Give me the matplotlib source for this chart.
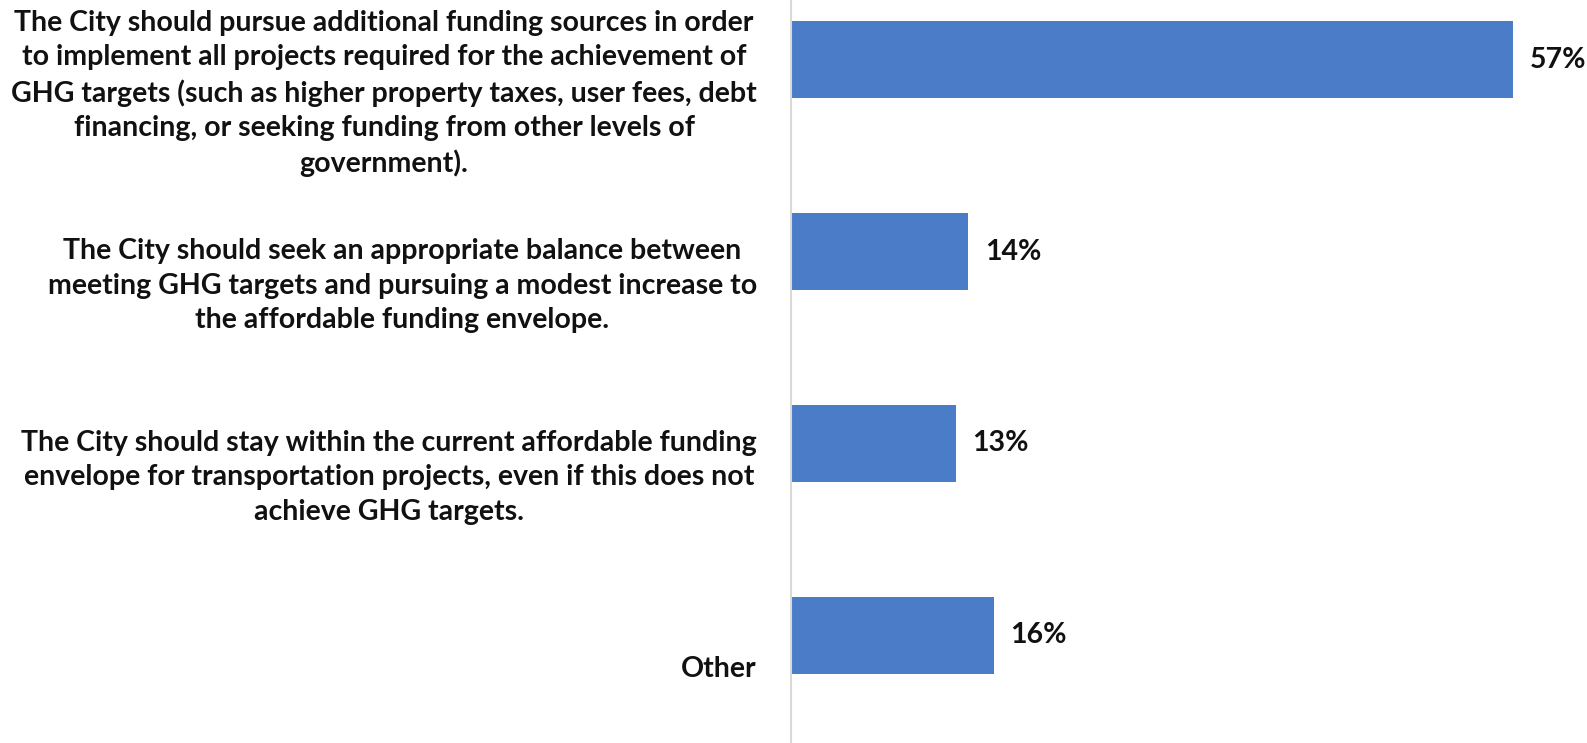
import matplotlib
matplotlib.use("Agg")
import matplotlib.pyplot as plt
import matplotlib.transforms as mtransforms

# survey responses, top to bottom
options = [
    "The City should pursue additional funding sources in order\n"
    "to implement all projects required for the achievement of\n"
    "GHG targets (such as higher property taxes, user fees, debt\n"
    "financing, or seeking funding from other levels of\n"
    "government).",
    "The City should seek an appropriate balance between\n"
    "meeting GHG targets and pursuing a modest increase to\n"
    "the affordable funding envelope.",
    "The City should stay within the current affordable funding\n"
    "envelope for transportation projects, even if this does not\n"
    "achieve GHG targets.",
    "Other",
]
shares = [57, 14, 13, 16]  # percent of respondents

BAR_COLOR = "#4a7cc8"
FONT = "Lato"

fig = plt.figure(figsize=(15.87, 7.43), dpi=100)
ax = fig.add_axes([0.4984, 0.0, 0.5016, 1.0])

pos = list(range(len(shares)))
ax.barh(pos, shares, height=0.4, color=BAR_COLOR)
ax.set_xlim(0, 62.8)
ax.set_ylim(3.56, -0.31)

for sp in ("top", "right", "bottom"):
    ax.spines[sp].set_visible(False)
ax.spines["left"].set_color("#d9d9d9")
ax.spines["left"].set_linewidth(1.5)
ax.set_xticks([])
ax.set_yticks([])

# value labels just past the bar ends
for p, v in zip(pos, shares):
    ax.annotate(f"{v}%", xy=(v, p), xytext=(12, 0), textcoords="offset points",
                ha="left", va="center", fontsize=20.5, fontweight="bold",
                family=FONT, color="#111111")

# category labels sit a little below each bar centre, right-aligned to the axis
shift = mtransforms.ScaledTranslation(-34 / 100, -34 / 100, fig.dpi_scale_trans)
for p, txt in zip(pos, options):
    ax.text(0, p, txt, transform=ax.transData + shift, ha="right", va="center",
            multialignment="center", fontsize=20.5, fontweight="bold",
            family=FONT, color="#111111", linespacing=1.39)

fig.savefig("out.png", dpi=100)
